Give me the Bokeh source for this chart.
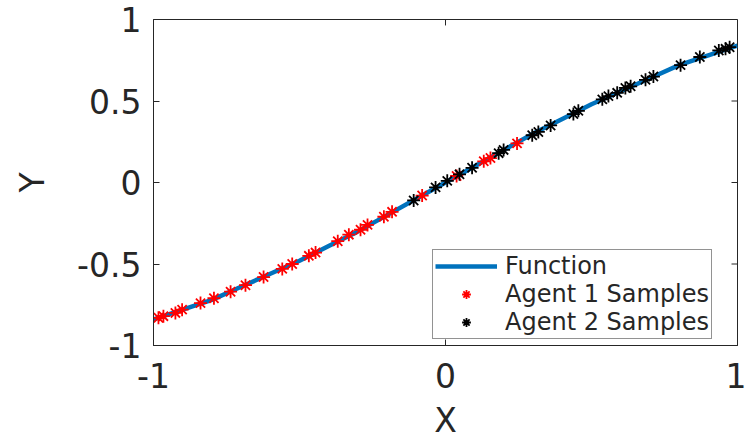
from bokeh.plotting import figure
from bokeh.models import Range1d, FixedTicker, Legend, LegendItem
from bokeh.embed import file_html
from bokeh.resources import INLINE

# Function curve
func_x = [-1.0, -0.9, -0.8, -0.7, -0.6, -0.5, -0.4, -0.3, -0.2, -0.1, 0.0,
          0.1, 0.2, 0.3, 0.4, 0.5, 0.6, 0.7, 0.8, 0.9, 1.0]
func_y = [-0.84, -0.78, -0.72, -0.64, -0.56, -0.48, -0.39, -0.30, -0.20, -0.10, 0.0,
          0.10, 0.20, 0.30, 0.39, 0.48, 0.56, 0.64, 0.72, 0.78, 0.84]

# Agent 1 samples
agent1_x = [-0.983, -0.966, -0.925, -0.902, -0.839, -0.793, -0.736, -0.685,
            -0.623, -0.559, -0.525, -0.468, -0.445, -0.369, -0.331, -0.291,
            -0.267, -0.211, -0.183, -0.080, 0.038, 0.131, 0.154, 0.245]
agent1_y = [-0.83, -0.82, -0.80, -0.78, -0.74, -0.71, -0.67, -0.63,
            -0.58, -0.53, -0.50, -0.45, -0.43, -0.36, -0.32, -0.29,
            -0.26, -0.21, -0.18, -0.08, 0.04, 0.13, 0.15, 0.24]

# Agent 2 samples
agent2_x = [-0.109, -0.034, 0.006, 0.048, 0.091, 0.182, 0.199, 0.297,
            0.318, 0.360, 0.438, 0.455, 0.537, 0.558, 0.588, 0.616,
            0.634, 0.685, 0.712, 0.805, 0.871, 0.936, 0.959, 0.973]
agent2_y = [-0.11, -0.03, 0.01, 0.05, 0.09, 0.18, 0.20, 0.29,
            0.31, 0.35, 0.42, 0.44, 0.51, 0.53, 0.55, 0.58,
            0.59, 0.63, 0.65, 0.72, 0.77, 0.81, 0.82, 0.83]

x_ticks = [-1, 0, 1]
x_tick_labels = ["-1", "0", "1"]
y_ticks = [-1, -0.5, 0, 0.5, 1]
y_tick_labels = ["-1", "-0.5", "0", "0.5", "1"]

FONT = "DejaVu Sans"
INK = "#262626"

W, H = 746, 442
BORDER_L, BORDER_R, BORDER_T, BORDER_B = 153, 9, 19, 94
TICK_PX = 6

p = figure(width=W, height=H, output_backend="svg", toolbar_location=None,
           x_range=Range1d(-1, 1), y_range=Range1d(-1, 1),
           min_border_left=BORDER_L, min_border_right=BORDER_R,
           min_border_top=BORDER_T, min_border_bottom=BORDER_B)
p.background_fill_color = "white"
p.border_fill_color = "white"
p.outline_line_color = INK
p.outline_line_width = 1
p.xgrid.visible = False
p.ygrid.visible = False

# inward tick marks on the top and right edges of the box
frame_w = W - BORDER_L - BORDER_R
frame_h = H - BORDER_T - BORDER_B
dx = TICK_PX * 2.0 / frame_w
dy = TICK_PX * 2.0 / frame_h
p.segment(x0=x_ticks, y0=[1] * len(x_ticks), x1=x_ticks, y1=[1 - dy] * len(x_ticks),
          line_color=INK, line_width=1)
p.segment(x0=[1] * len(y_ticks), y0=y_ticks, x1=[1 - dx] * len(y_ticks), y1=y_ticks,
          line_color=INK, line_width=1)

line = p.line(func_x, func_y, line_color="#0072BD", line_width=4.5, line_join="round")
a1 = p.scatter(agent1_x, agent1_y, marker="asterisk", size=13, line_color="#ff0000", line_width=1.8)
a2 = p.scatter(agent2_x, agent2_y, marker="asterisk", size=13, line_color="black", line_width=1.8)


def style_axis(ax, ticks, labels):
    ax.ticker = FixedTicker(ticks=ticks)
    ax.major_label_overrides = {t: l for t, l in zip(ticks, labels)}
    ax.axis_line_color = INK
    ax.major_tick_line_color = INK
    ax.major_tick_in = TICK_PX
    ax.major_tick_out = 0
    ax.minor_tick_line_color = None
    ax.major_label_text_font = FONT
    ax.major_label_text_color = INK
    ax.major_label_text_font_size = "33px"
    ax.axis_label_text_font = FONT
    ax.axis_label_text_color = INK
    ax.axis_label_text_font_style = "normal"
    ax.axis_label_text_font_size = "33px"


style_axis(p.xaxis[0], x_ticks, x_tick_labels)
style_axis(p.yaxis[0], y_ticks, y_tick_labels)
p.xaxis[0].axis_label = "X"
p.yaxis[0].axis_label = "Y"
p.xaxis[0].major_label_standoff = 17
p.xaxis[0].axis_label_standoff = 10
p.yaxis[0].major_label_standoff = 12
p.yaxis[0].axis_label_standoff = 22

legend = Legend(items=[
    LegendItem(label="Function", renderers=[line]),
    LegendItem(label="Agent 1 Samples", renderers=[a1]),
    LegendItem(label="Agent 2 Samples", renderers=[a2]),
], location=(279, 6))
legend.label_text_font = FONT
legend.label_text_font_size = "24px"
legend.label_text_color = INK
legend.border_line_color = INK
legend.border_line_width = 1
legend.background_fill_color = "white"
legend.background_fill_alpha = 1
legend.glyph_width = 62
legend.glyph_height = 22
legend.label_standoff = 8
legend.label_height = 22
legend.padding = 2
legend.spacing = 0
legend.margin = 0
p.add_layout(legend)

open("out.html", "w").write(file_html(p, INLINE))
